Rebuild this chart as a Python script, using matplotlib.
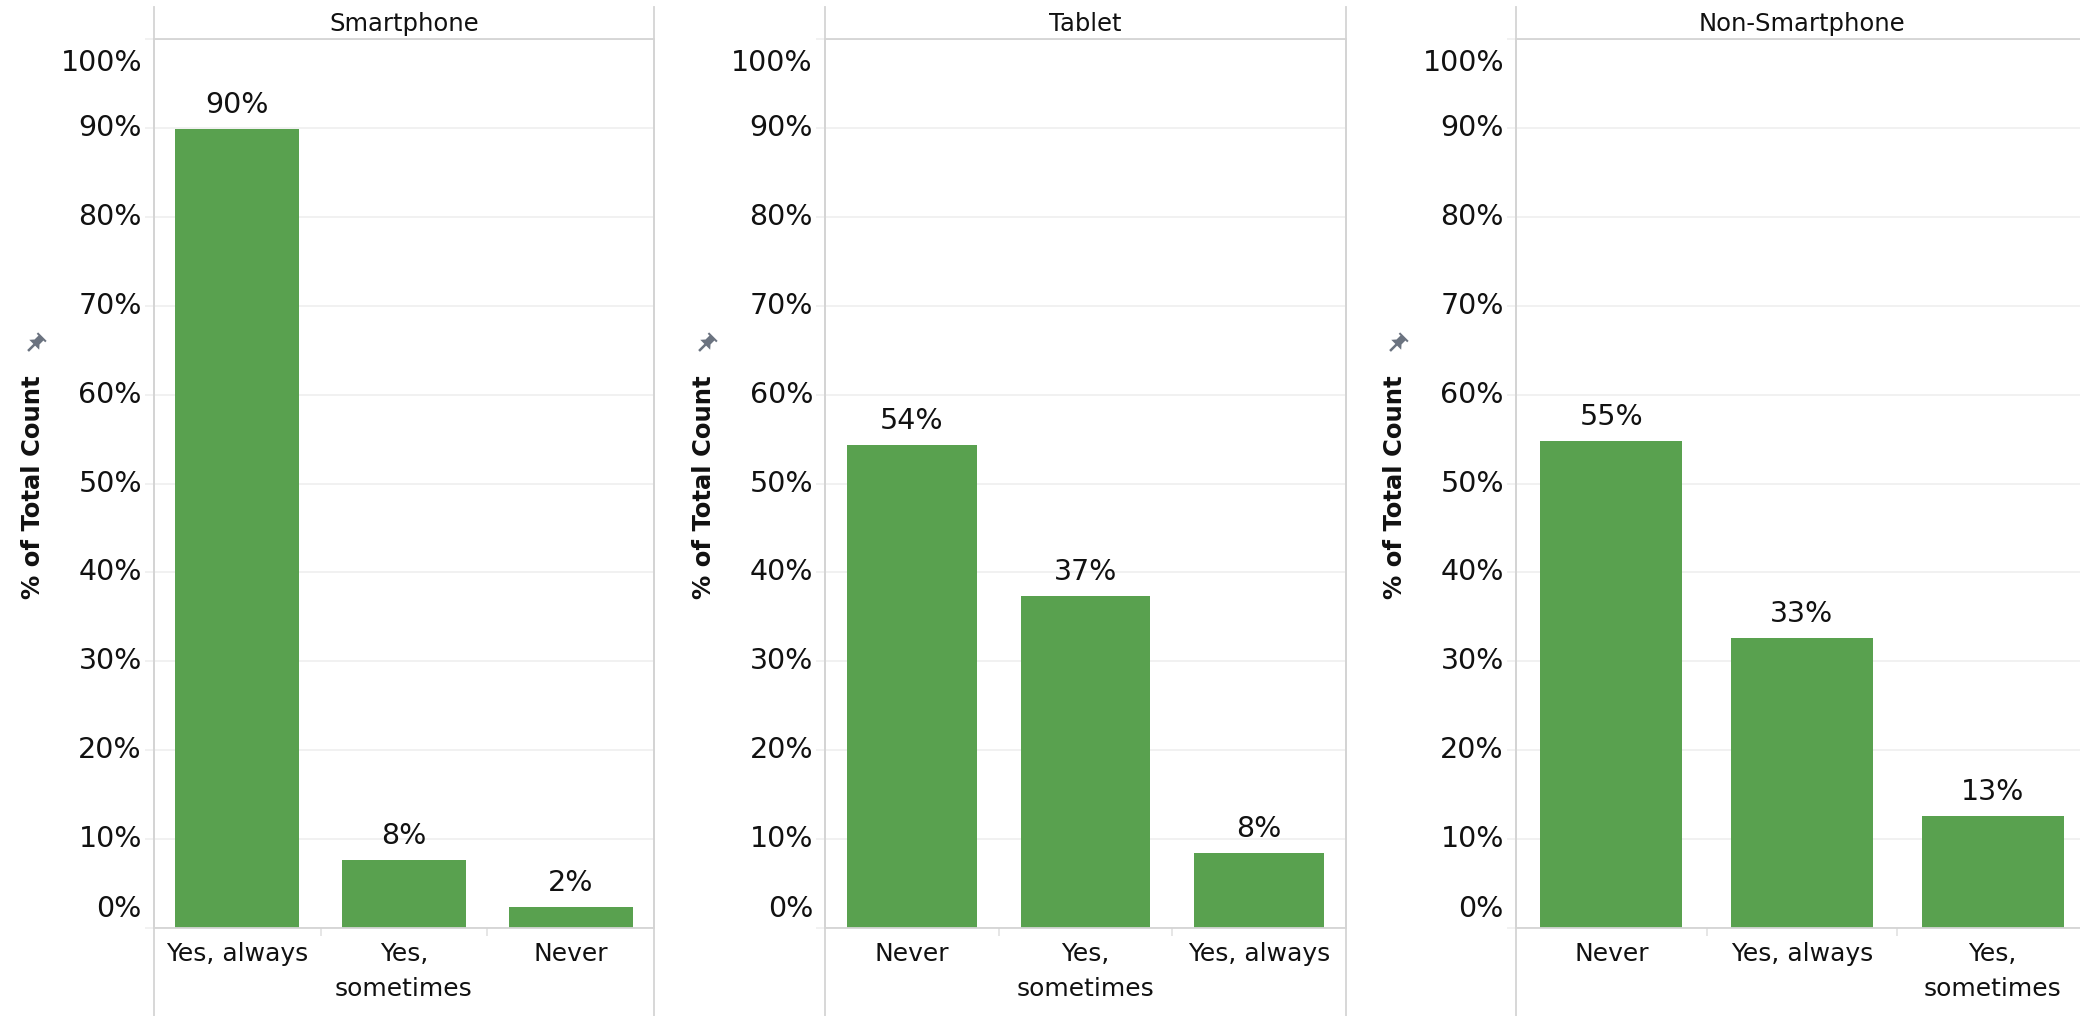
import numpy as np
import matplotlib.pyplot as plt
from matplotlib.lines import Line2D
from matplotlib.patches import Polygon
from matplotlib.transforms import ScaledTranslation

devices = ['Smartphone', 'Tablet', 'Non-Smartphone']

smartphone_cats = ['Yes, always', 'Yes,\nsometimes', 'Never']
smartphone_pct = [89.9, 7.7, 2.4]

tablet_cats = ['Never', 'Yes,\nsometimes', 'Yes, always']
tablet_pct = [54.3, 37.3, 8.4]

nonsmart_cats = ['Never', 'Yes, always', 'Yes,\nsometimes']
nonsmart_pct = [54.8, 32.6, 12.6]

y_ticks = list(range(0, 101, 10))
y_ticklabels = [f'{t}%' for t in y_ticks]

W, H = 2080, 1016
GREEN = '#59a14f'
GRID = '#efefef'
LINE = '#d4d4d4'
TXT = '#111111'

def fx(x):
    return x / W

def fy(y):
    return 1 - y / H

fig = plt.figure(figsize=(W / 100, H / 100), dpi=100)

# panel left/right edges in pixels
panels = [(154, 654), (825, 1346), (1516, 2088)]
top, base = 39, 928
data = [(smartphone_cats, smartphone_pct),
        (tablet_cats, tablet_pct),
        (nonsmart_cats, nonsmart_pct)]

for (x0, x1), name, (cats, pct) in zip(panels, devices, data):
    ax = fig.add_axes([fx(x0), fy(base), (x1 - x0) / W, (base - top) / H])
    xs = np.arange(len(cats))
    ax.bar(xs, pct, width=0.745, color=GREEN, zorder=2)
    ax.set_xlim(-0.5, len(cats) - 0.5)
    ax.set_ylim(0, 100)

    # grid + light tick stubs on the value axis
    ax.set_yticks(y_ticks)
    ax.set_yticklabels([])
    ax.yaxis.grid(True, color=GRID, linewidth=1.2, zorder=0)
    ax.tick_params(axis='y', length=6.5, color=GRID, width=1.2)

    # value axis labels: first/last pulled inside the plot range
    for t, lab in zip(y_ticks, y_ticklabels):
        dy = 0
        if t == 100:
            dy = -24
        elif t == 0:
            dy = 19
        tr = ax.get_yaxis_transform() + ScaledTranslation(-12 / 100, dy / 100, fig.dpi_scale_trans)
        ax.text(0, t, lab, transform=tr, ha='right', va='center',
                fontsize=20.5, color=TXT)

    ax.set_xticks(xs)
    ax.set_xticklabels(cats, fontsize=18, color=TXT, linespacing=1.6)
    ax.set_xticks([0.5, 1.5], minor=True)
    ax.tick_params(axis='x', which='major', length=0, pad=10)
    ax.tick_params(axis='x', which='minor', length=6, color='#e2e2e2', width=1.2)

    for sp in ax.spines.values():
        sp.set_color(LINE)
        sp.set_linewidth(1.3)

    for x, v in zip(xs, pct):
        ax.annotate(f'{v:.0f}%', (x, v), xytext=(0, 11.5), textcoords='offset points',
                    ha='center', va='baseline', fontsize=20.5, color=TXT)

    # header strip and panel dividers
    for xe in (x0, x1):
        fig.add_artist(Line2D([fx(xe), fx(xe)], [fy(7), 0], color=LINE, linewidth=1.3))
    fig.text(fx((x0 + x1) / 2), fy(31), name, ha='center', va='baseline',
             fontsize=17.5, color=TXT)

    fig.text(fx(x0 - 121), fy(487), '% of Total Count', rotation=90, ha='center',
             va='center', fontsize=17.5, fontweight='bold', color=TXT)

    # small pin marker beside the axis title
    cx, cy = x0 - 118, 343
    shape = np.array([(-6, 9), (6, 9), (6, 7), (3.5, 7), (3.5, 1.5), (7, -2.5), (-7, -2.5),
                      (-3.5, 1.5), (-3.5, 7), (-6, 7)], dtype=float)
    a = np.deg2rad(-45)
    rot = np.array([[np.cos(a), -np.sin(a)], [np.sin(a), np.cos(a)]])
    pts = shape @ rot.T
    needle = np.array([(0, -2.5), (0, -10)], dtype=float) @ rot.T
    fig.add_artist(Polygon([(fx(cx + p[0]), fy(cy - p[1])) for p in pts],
                           closed=True, color='#6b7380', lw=0))
    fig.add_artist(Line2D([fx(cx + needle[0, 0]), fx(cx + needle[1, 0])],
                          [fy(cy - needle[0, 1]), fy(cy - needle[1, 1])],
                          color='#6b7380', linewidth=1.8))

fig.savefig('out.png', dpi=100)
